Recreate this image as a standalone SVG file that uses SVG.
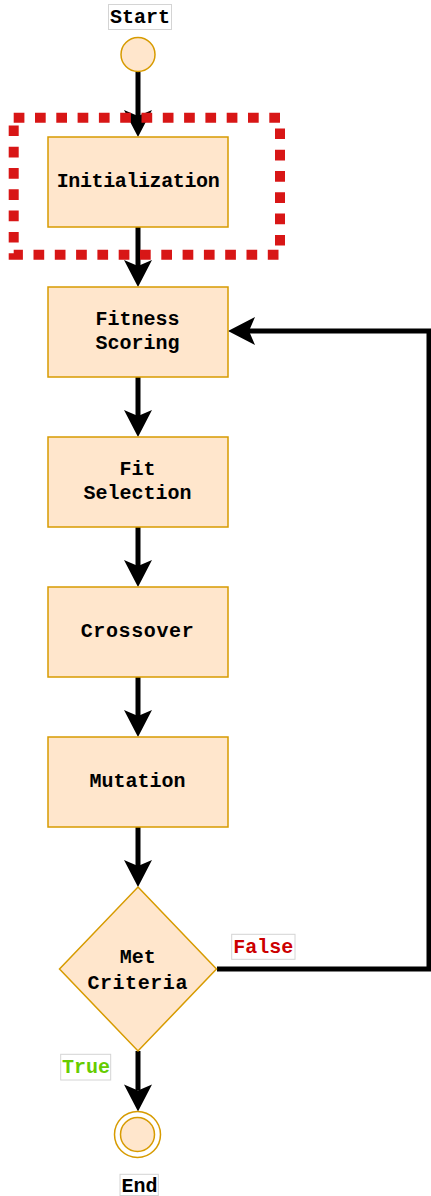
<svg xmlns="http://www.w3.org/2000/svg" width="431" height="1196" viewBox="0 0 431 1196">
<style>
.box{fill:#ffe6cc;stroke:#d79b00;stroke-width:1.5}
.t{font-family:"Liberation Mono","Courier New",monospace;font-weight:bold;font-size:20px;fill:#000;text-anchor:middle}
.lbl{fill:#fff;stroke:#d4d4d4;stroke-width:1}
.edge{fill:none;stroke:#000;stroke-width:5;stroke-linejoin:miter}
</style>
<defs>
<marker id="arr" markerUnits="userSpaceOnUse" viewBox="0 -15 28 30" refX="6" refY="0" markerWidth="28" markerHeight="30" orient="auto" overflow="visible">
<path d="M0,-14 L27,0 L0,14 L6,0 Z" fill="#000"/>
</marker>
</defs>
<rect width="431" height="1196" fill="#fff"/>
<g id="connectors">
<path class="edge" d="M138,72 V116" marker-end="url(#arr)"/>
<path class="edge" d="M138,227 V266" marker-end="url(#arr)"/>
<path class="edge" d="M138,377 V416" marker-end="url(#arr)"/>
<path class="edge" d="M138,527 V566" marker-end="url(#arr)"/>
<path class="edge" d="M138,677 V716" marker-end="url(#arr)"/>
<path class="edge" d="M138,827 V866" marker-end="url(#arr)"/>
<path class="edge" d="M138,1051 V1090.5" marker-end="url(#arr)"/>
<path class="edge" d="M217,969 H429 V331 H249" marker-end="url(#arr)"/>
</g>
<g id="start">
<circle class="box" cx="138" cy="54.5" r="17"/>
<rect class="lbl" x="108.5" y="4.5" width="63" height="25"/>
<text class="t" x="140" y="22.5">Start</text>
</g>
<g id="initialization">
<rect class="box" x="48" y="137" width="180" height="90"/>
<text class="t" x="138.2" y="187.3" textLength="163" lengthAdjust="spacing">Initialization</text>
</g>
<g id="fitness">
<rect class="box" x="48" y="287" width="180" height="90"/>
<text class="t" x="137.5" y="324.5">Fitness</text>
<text class="t" x="137.5" y="349">Scoring</text>
</g>
<g id="selection">
<rect class="box" x="48" y="437" width="180" height="90"/>
<text class="t" x="137.5" y="474.5">Fit</text>
<text class="t" x="137.5" y="499">Selection</text>
</g>
<g id="crossover">
<rect class="box" x="48" y="587" width="180" height="90"/>
<text class="t" x="137.2" y="637.3" textLength="113" lengthAdjust="spacing">Crossover</text>
</g>
<g id="mutation">
<rect class="box" x="48" y="737" width="180" height="90"/>
<text class="t" x="137.5" y="787.3">Mutation</text>
</g>
<g id="criteria">
<polygon class="box" points="138,887 216.5,969 138,1051 59.5,969"/>
<text class="t" x="137.8" y="962.7">Met</text>
<text class="t" x="137.4" y="988.5" textLength="100" lengthAdjust="spacing">Criteria</text>
</g>
<g id="false-label">
<rect class="lbl" x="231.7" y="934.3" width="63.3" height="25"/>
<text class="t" x="263.3" y="952.7" style="fill:#cc0000">False</text>
</g>
<g id="true-label">
<rect class="lbl" x="60.7" y="1054.3" width="50" height="25.7"/>
<text class="t" x="85.9" y="1072.7" style="fill:#66cc00">True</text>
</g>
<g id="end">
<circle cx="137.5" cy="1134.5" r="23" fill="#fff" stroke="#d79b00" stroke-width="1.5"/>
<circle class="box" cx="137.5" cy="1134.5" r="17"/>
<rect class="lbl" x="120" y="1174.3" width="38.3" height="21.2"/>
<text class="t" x="139.6" y="1191.5">End</text>
</g>
<g id="highlight">
<rect x="13.7" y="117.8" width="266.3" height="136.9" fill="none" stroke="#d81616" stroke-width="10" stroke-dasharray="10.7 10.6"/>
</g>
</svg>
